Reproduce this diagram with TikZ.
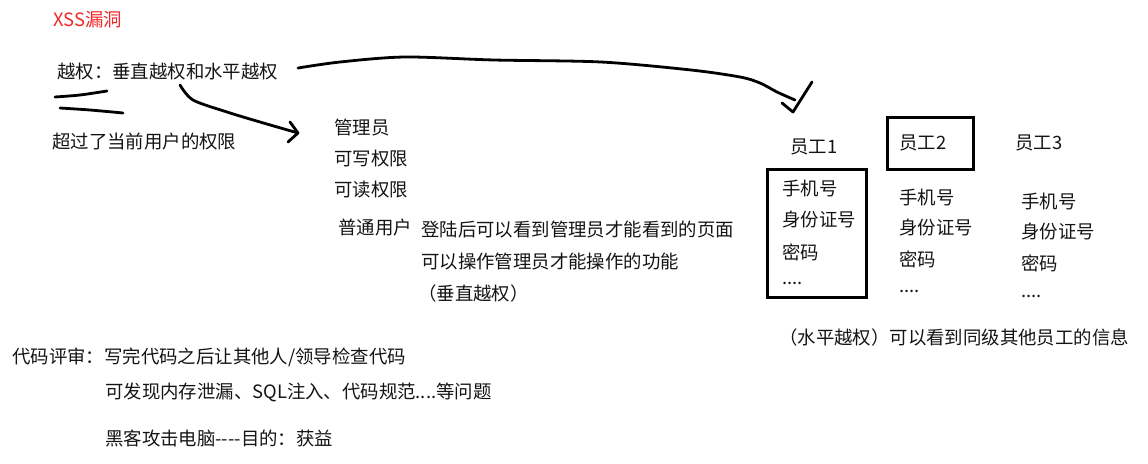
\documentclass[tikz,border=0pt]{standalone}
\usepackage{fontspec}
\setmainfont{Noto Sans CJK SC}
\definecolor{xssred}{RGB}{240,40,40}
\definecolor{ink}{RGB}{20,20,20}
\tikzset{
  txt/.style={anchor=west, inner sep=0pt, text=ink, font=\fontsize{18.4}{20}\selectfont},
  pen/.style={line width=2.8pt, line cap=round, line join=round, black},
  frame/.style={draw, line width=3pt, inner sep=0pt}
}
\begin{document}
\begin{tikzpicture}[x=1pt,y=-1pt]
\useasboundingbox (0,0) rectangle (1148,463);
% texts
\node[txt, text=xssred] (xss) at (53,20) {XSS漏洞};
\node[txt] (yq) at (57,72) {越权：垂直越权和水平越权};
\node[txt] (cg) at (52,142) {超过了当前用户的权限};
\node[txt] (gly) at (334,128) {管理员};
\node[txt] (kx) at (334,159) {可写权限};
\node[txt] (kd) at (334,190) {可读权限};
\node[txt] (pt) at (338,228) {普通用户};
\node[txt] (dl) at (421,230) {登陆后可以看到管理员才能看到的页面};
\node[txt] (cz) at (421,262) {可以操作管理员才能操作的功能};
\node[txt] (cz2) at (418,294) {（垂直越权）};
\node[txt] (e1) at (790,147) {员工1};
\node[txt] (e2) at (899,143) {员工2};
\node[txt] (e3) at (1015,143) {员工3};
\node[txt] (a1) at (782,189) {手机号};
\node[txt] (a2) at (782,220) {身份证号};
\node[txt] (a3) at (782,252) {密码};
\node[txt] (a4) at (782,283) {....};
\node[txt] (b1) at (899,198) {手机号};
\node[txt] (b2) at (899,228) {身份证号};
\node[txt] (b3) at (899,259) {密码};
\node[txt] (b4) at (899,291) {....};
\node[txt] (c1) at (1021,202) {手机号};
\node[txt] (c2) at (1021,232) {身份证号};
\node[txt] (c3) at (1021,263) {密码};
\node[txt] (c4) at (1021,296) {....};
\node[txt] (sp) at (779,338) {（水平越权）可以看到同级其他员工的信息};
\node[txt] (dm) at (12,357) {代码评审：写完代码之后让其他人/领导检查代码};
\node[txt] (fx) at (105,392) {可发现内存泄漏、SQL注入、代码规范....等问题};
\node[txt] (hk) at (105,438) {黑客攻击电脑-{}-{}-{}-目的：获益};
% boxes
\node[frame, minimum width=99pt, minimum height=128pt] (box1) at (816.5,233) {};
\node[frame, minimum width=86pt, minimum height=52pt] (box2) at (930,143) {};
% underlines
\coordinate (u1s) at (55,97);
\coordinate (u1e) at (107,91);
\coordinate (u2s) at (60,108);
\coordinate (u2e) at (123,113);
\draw[pen] plot[smooth] coordinates {(u1s) (80,95) (u1e)};
\draw[pen] plot[smooth] coordinates {(u2s) (90,110) (u2e)};
% arrow to admin
\coordinate (s1) at (180,85);
\coordinate (t1) at (298,133);
\draw[pen] plot[smooth] coordinates {(s1) (193,100) (227,112) (260,122) (t1)};
\draw[pen] (290,122) -- (t1) -- (288,142);
% long curve to employee 1
\coordinate (s2) at (298,68);
\coordinate (t2) at (795,100);
\coordinate (tip) at (793,112);
\draw[pen] plot[smooth] coordinates {(s2) (340,62) (405,57) (494,60) (601,62) (691,70) (740,77) (760,83) (777,92) (t2)};
\draw[pen] (782,103) -- (tip) -- (812,82);
\end{tikzpicture}
\end{document}
